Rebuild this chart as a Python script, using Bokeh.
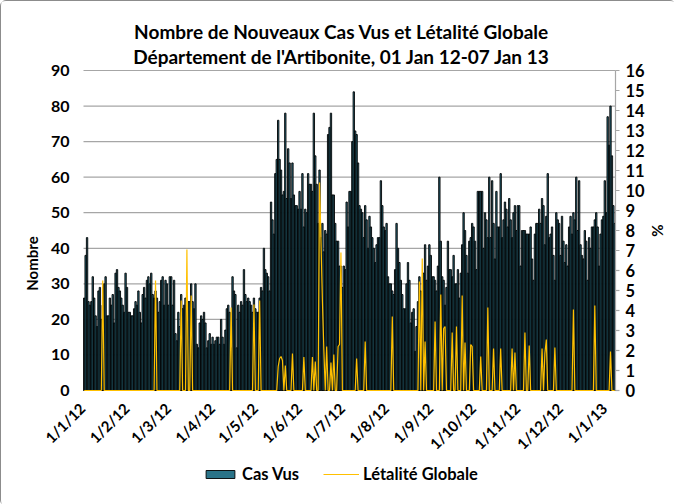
from math import pi
from bokeh.plotting import figure
from bokeh.models import (ColumnDataSource, Range1d, Legend, LegendItem)
from bokeh.core.properties import value
from bokeh.embed import file_html
from bokeh.resources import INLINE

# ---------------- data ----------------
title_1 = "Nombre de Nouveaux Cas Vus et Létalité Globale"
title_2 = "Département de l'Artibonite, 01 Jan 12-07 Jan 13"
tick_labels = ["1/1/12", "1/2/12", "1/3/12", "1/4/12", "1/5/12", "1/6/12",
               "1/7/12", "1/8/12", "1/9/12", "1/10/12", "1/11/12", "1/12/12",
               "1/1/13"]
left_ticks = [0, 10, 20, 30, 40, 50, 60, 70, 80, 90]
right_ticks = list(range(0, 17))

cas_jan12 = [26, 38, 43, 25, 24, 25, 32, 26, 21, 18, 28, 29, 20, 24, 30, 32,
             21, 21, 26, 24, 27, 19, 33, 34, 29, 28, 26, 24, 22, 33, 29]
cas_feb12 = [22, 22, 21, 21, 23, 25, 24, 28, 22, 19, 27, 29, 26, 31, 32, 30,
             33, 27, 26, 28, 26, 22, 25, 31, 32, 24, 31, 30, 24]
cas_mar12 = [32, 32, 24, 31, 16, 14, 22, 18, 27, 23, 24, 26, 24, 25, 25, 30,
             25, 23, 30, 13, 12, 19, 21, 20, 22, 19, 12, 14, 16, 13, 15]
cas_apr12 = [13, 14, 15, 15, 13, 20, 15, 13, 17, 23, 24, 22, 12, 32, 28, 27,
             12, 24, 22, 25, 24, 34, 27, 25, 26, 25, 24, 22, 26, 23]
cas_may12 = [22, 22, 26, 29, 28, 40, 34, 33, 32, 28, 53, 48, 44, 61, 65, 76,
             65, 62, 55, 56, 78, 54, 68, 64, 54, 64, 55, 52, 52, 51, 56]
cas_jun12 = [51, 61, 46, 51, 50, 61, 58, 58, 56, 78, 66, 58, 47, 62, 43, 47,
             39, 45, 44, 72, 74, 78, 55, 55, 47, 42, 42, 35, 35, 29]
cas_jul12 = [35, 34, 53, 46, 56, 56, 70, 84, 73, 72, 64, 52, 51, 50, 43, 52,
             48, 40, 49, 46, 43, 40, 36, 41, 43, 43, 59, 52, 46, 45, 47]
cas_aug12 = [32, 30, 30, 28, 27, 34, 47, 40, 36, 31, 27, 23, 23, 30, 36, 31,
             19, 22, 23, 11, 18, 25, 32, 28, 23, 33, 41, 31, 35, 41, 38]
cas_sep12 = [32, 32, 31, 28, 35, 60, 42, 32, 31, 24, 29, 42, 34, 34, 32, 38,
             30, 30, 34, 26, 33, 41, 50, 45, 38, 33, 42, 43, 47, 46]
cas_oct12 = [42, 34, 56, 56, 56, 56, 40, 50, 48, 43, 60, 43, 59, 47, 37, 56,
             46, 46, 61, 43, 48, 53, 51, 46, 54, 48, 43, 50, 52, 45, 52]
cas_nov12 = [52, 35, 45, 45, 45, 44, 44, 44, 46, 37, 31, 44, 47, 47, 51, 47,
             54, 52, 41, 49, 61, 43, 44, 46, 38, 31, 50, 48, 47, 38]
cas_dec12 = [49, 42, 36, 41, 35, 46, 49, 44, 50, 48, 60, 45, 59, 41, 38, 37,
             45, 42, 31, 43, 40, 46, 46, 48, 50, 46, 35, 44, 48, 49, 59]
cas_jan13 = [50, 77, 69, 80, 66, 52, 47]

# Létalité globale (%): days (index from 01 Jan 12) with a non-zero value
letal_days = [13, 50, 68, 72, 75, 103, 119, 123, 136, 137, 138, 139, 141, 146,
              154, 160, 162, 165, 166, 167, 168, 170, 173, 175, 178, 179, 180,
              191, 197, 216, 235, 237, 239, 246, 250, 252, 253, 258, 261, 265,
              267, 271, 272, 278, 283, 287, 292, 300, 302, 309, 312, 321, 323,
              324, 330, 343, 358, 369]
letal_vals = [5.5, 5.5, 4.5, 7.05, 4.75, 4.15, 4.3, 4.5, 1.2, 1.6, 1.7, 1.5,
              1.25, 1.85, 1.67, 1.67, 1.45, 10.4, 7.5, 4.5, 2.1, 2.2, 1.4, 1.8,
              2.2, 2.3, 6.9, 1.6, 2.45, 3.7, 5.45, 6.6, 2.45, 3.45, 4.8, 3.1,
              3.2, 2.9, 3.2, 4.75, 2.4, 2.3, 2.2, 1.7, 4.15, 2.1, 2.1, 2.1, 1.9,
              2.9, 2.25, 2.1, 1.85, 2.55, 2.15, 4.05, 4.25, 1.95]

months = [cas_jan12, cas_feb12, cas_mar12, cas_apr12, cas_may12, cas_jun12,
          cas_jul12, cas_aug12, cas_sep12, cas_oct12, cas_nov12, cas_dec12,
          cas_jan13]

cas = [v for m in months for v in m]
n = len(cas)
days = list(range(n))
month_starts = []
acc = 0
for m in months:
    month_starts.append(acc)
    acc += len(m)

letal = [0.0] * n
for d, v in zip(letal_days, letal_vals):
    if d < n:
        letal[d] = v

src = ColumnDataSource(dict(day=days, cas=cas, letal=letal))

FONT = "Lato"
TXT = "#000000"
GRID = "#A6A6A6"

# ---------------- geometry (pixels) ----------------
W, H = 674, 504
PLOT_L, PLOT_R = 82, 614   # value area, horizontally
PLOT_T, PLOT_B = 69, 389   # value area, vertically
Y_MAX, P_MAX = 90, 16
AREA_H = PLOT_B - PLOT_T
ppd = (PLOT_R - PLOT_L) / n
x_lo = -0.5 - PLOT_L / ppd
x_hi = -0.5 + (W - PLOT_L) / ppd
y_lo = -Y_MAX * (H - PLOT_B) / AREA_H
y_hi = Y_MAX + Y_MAX * PLOT_T / AREA_H
p_lo = -P_MAX * (H - PLOT_B) / AREA_H
p_hi = P_MAX + P_MAX * PLOT_T / AREA_H
x_first, x_last = -0.5, n - 0.5


def px_x(px):
    return x_lo + px / ppd


def px_y(py):
    return (PLOT_B - py) * Y_MAX / AREA_H


p = figure(frame_width=W, frame_height=H, output_backend="svg",
           toolbar_location=None, x_axis_location=None, y_axis_location=None,
           x_range=Range1d(x_lo, x_hi), y_range=Range1d(y_lo, y_hi),
           min_border=0, background_fill_color="white",
           border_fill_color="white")
p.outline_line_color = None
p.grid.visible = False
p.styles = {"border": "1px solid #8C8C8C", "border-radius": "6px"}
p.extra_y_ranges = {"pct": Range1d(p_lo, p_hi)}

# titles
p.text(x=[px_x(340), px_x(340)], y=[px_y(30), px_y(55)],
       text=[title_1, title_2], text_align="center", text_baseline="middle",
       text_font=value(FONT), text_font_style="bold",
       text_font_size=value("19px"), text_color=TXT)

# horizontal grid lines
p.segment(x0=[x_first] * len(left_ticks), x1=[x_last] * len(left_ticks),
          y0=left_ticks, y1=left_ticks, line_color=GRID, line_width=1.2)

bars = p.vbar(x="day", top="cas", bottom=0, width=0.95, source=src,
              fill_color="#2A7388", line_color="#000000", line_width=0.9)

line = p.line(x="day", y="letal", source=src, y_range_name="pct",
              line_color="#FFC000", line_width=1.2)

# right axis line + ticks
p.segment(x0=[x_last], x1=[x_last], y0=[0], y1=[P_MAX], y_range_name="pct",
          line_color=GRID, line_width=1.2)
p.segment(x0=[x_last] * len(right_ticks), x1=[x_last + 4 / ppd] * len(right_ticks),
          y0=right_ticks, y1=right_ticks, y_range_name="pct",
          line_color=GRID, line_width=1.2)

# tick labels
p.text(x=[x_first] * len(left_ticks), y=left_ticks,
       text=[str(t) for t in left_ticks], text_align="right",
       text_baseline="middle", x_offset=-14, text_font=value(FONT),
       text_font_style="bold", text_font_size=value("16px"), text_color=TXT)
p.text(x=[x_last] * len(right_ticks), y=right_ticks,
       text=[str(t) for t in right_ticks], text_align="left",
       text_baseline="middle", x_offset=10, y_range_name="pct",
       text_font=value(FONT), text_font_style="bold",
       text_font_size=value("16.5px"), text_color=TXT)

# axis titles
p.text(x=[x_first], y=[px_y(262)], text=["Nombre"], angle=pi / 2,
       text_align="center", text_baseline="middle", x_offset=-52,
       text_font=value(FONT), text_font_style="bold",
       text_font_size=value("15px"), text_color=TXT)
p.text(x=[x_last], y=[P_MAX / 2], text=["%"], angle=pi / 2,
       text_align="center", text_baseline="middle", x_offset=41,
       y_range_name="pct", text_font=value(FONT), text_font_style="bold",
       text_font_size=value("15px"), text_color=TXT)

# date labels under the zero line
lab_src = ColumnDataSource(dict(x=month_starts, y=[0] * len(month_starts),
                                t=tick_labels))
p.text(x="x", y="y", text="t", source=lab_src, angle=pi / 4,
       text_align="right", text_baseline="middle", x_offset=-2, y_offset=15,
       text_font=value(FONT), text_font_style="bold",
       text_font_size=value("15px"), text_color=TXT)

legend = Legend(items=[LegendItem(label="Cas Vus", renderers=[bars]),
                       LegendItem(label="Létalité Globale", renderers=[line])],
                orientation="horizontal", location=(201, 21),
                label_text_font=FONT, label_text_font_style="bold",
                label_text_font_size="16.5px", label_text_color=TXT,
                glyph_width=36, glyph_height=10, label_height=16,
                padding=4, margin=0, spacing=24, label_standoff=4,
                border_line_color=None, background_fill_alpha=0)
p.add_layout(legend, "center")

open("out.html", "w").write(file_html(p, INLINE))
